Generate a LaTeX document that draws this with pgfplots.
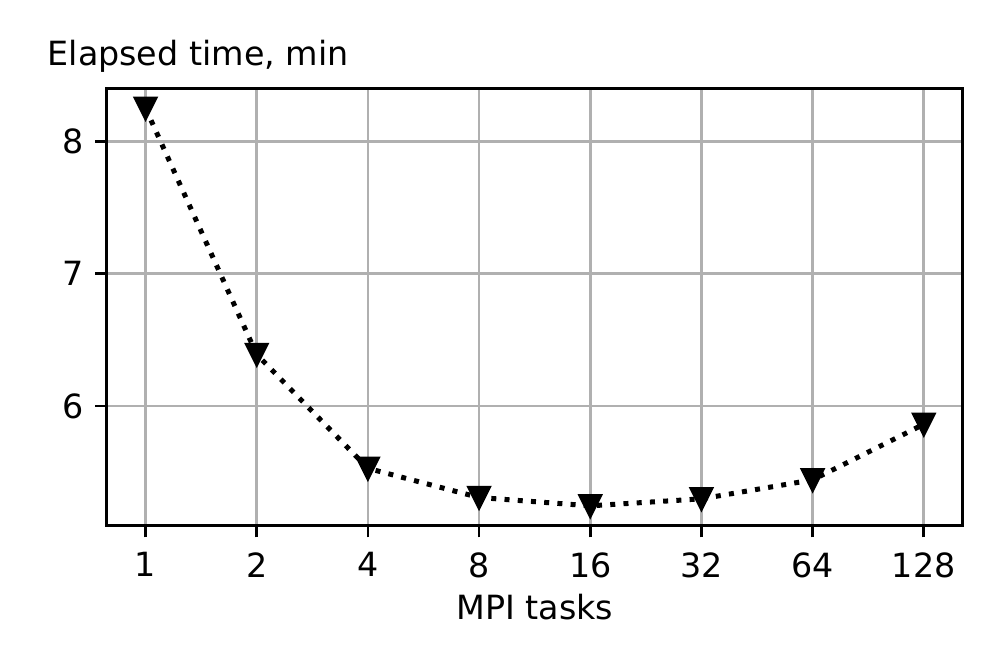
\documentclass[border=0pt]{standalone}
\usepackage{fontspec}
\setmainfont{DejaVu Sans}
\usepackage{pgfplots}
\pgfplotsset{compat=1.18}

% matplotlib-style down triangle: as wide as it is tall
\pgfdeclareplotmark{mpltri}{%
  \pgfpathmoveto{\pgfqpoint{0pt}{-\pgfplotmarksize}}%
  \pgfpathlineto{\pgfqpoint{-\pgfplotmarksize}{\pgfplotmarksize}}%
  \pgfpathlineto{\pgfqpoint{\pgfplotmarksize}{\pgfplotmarksize}}%
  \pgfpathclose
  \pgfusepathqfillstroke
}

\definecolor{gridgray}{HTML}{B0B0B0}

\begin{document}
\begin{tikzpicture}
\begin{axis}[
    scale only axis,
    width=256.8pt,
    height=131.2pt,
    xmin=-0.35, xmax=7.35,
    ymin=5.097, ymax=8.40,
    xtick={0,1,2,3,4,5,6,7},
    xticklabels={1,2,4,8,16,32,64,128},
    ytick={6,7,8},
    tick pos=left,
    tick align=outside,
    major tick length=3.5pt,
    every tick/.style={black, line width=0.8pt},
    axis line style={line width=0.8pt},
    grid=major,
    grid style={gridgray, line width=0.8pt},
    tick label style={font=\fontsize{10}{12}\selectfont},
    /pgf/number format/assume math mode=true,
    xticklabel style={yshift=-1pt},
    xlabel={MPI tasks},
    xlabel style={font=\fontsize{10}{12}\selectfont, yshift=2pt},
    clip=false,
]
\addplot[black, line width=1.5pt, dash pattern=on 1.5pt off 2.475pt,
    mark=mpltri, mark size=3pt,
    mark options={solid, line width=1pt, fill=black}]
coordinates {
    (0, 8.25) (1, 6.39) (2, 5.53) (3, 5.31)
    (4, 5.247) (5, 5.30) (6, 5.443) (7, 5.863)
};
\node[anchor=base west, inner sep=0pt, font=\fontsize{10}{12}\selectfont]
    at ([xshift=-17.9pt, yshift=7pt]rel axis cs:0,1) {Elapsed time, min};
% frame the page like the reference
\path ([xshift=-32pt, yshift=-41.8pt]rel axis cs:0,0)
      ([xshift=10.6pt, yshift=26.5pt]rel axis cs:1,1);
\end{axis}
\end{tikzpicture}
\end{document}
